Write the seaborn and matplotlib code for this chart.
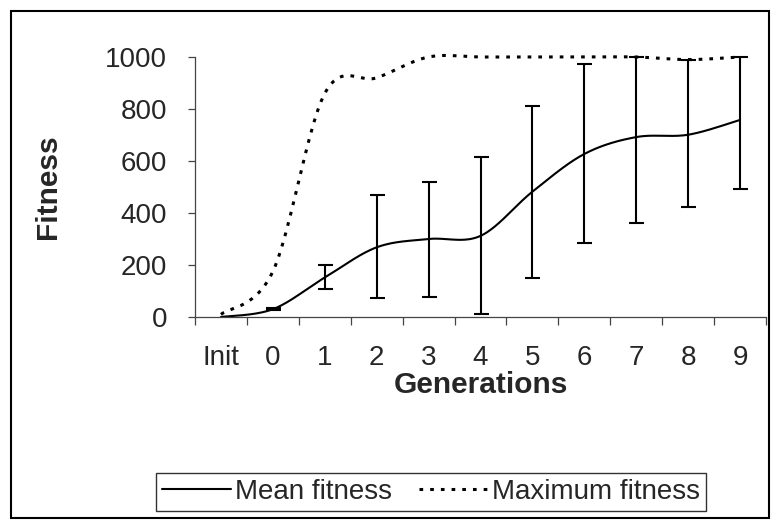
import numpy as np
import pandas as pd
import matplotlib
matplotlib.use("Agg")
import matplotlib.pyplot as plt
from matplotlib.lines import Line2D
from matplotlib.patches import Rectangle
import seaborn as sns

# Fitness per generation
generations = ["Init", "0", "1", "2", "3", "4", "5", "6", "7", "8", "9"]
mean_fitness = [0, 30, 152, 268, 300, 312, 482, 627, 692, 701, 758]
max_fitness = [10, 175, 860, 920, 1000, 1000, 1000, 1000, 1000, 990, 1000]
# Range of the population fitness (lower / upper end of each error bar)
range_low = [np.nan, 27, 106, 72, 78, 13, 150, 286, 363, 422, 491]
range_high = [np.nan, 33, 200, 469, 521, 614, 811, 972, 1000, 987, 1000]
y_ticks = [0, 200, 400, 600, 800, 1000]

sns.set_theme(style="white")
plt.rcParams["font.family"] = ["Liberation Sans", "DejaVu Sans"]

DOTS = (1.2, 2.3)


def smooth_curve(values, steps=40):
    """Smoothed line through the points (cubic Bezier, Catmull-Rom tangents)."""
    y = np.asarray(values, dtype=float)
    x = np.arange(len(y), dtype=float)
    xs, ys = [], []
    n = len(y)
    for i in range(n - 1):
        p0 = (x[i], y[i])
        p3 = (x[i + 1], y[i + 1])
        pm = (x[max(i - 1, 0)], y[max(i - 1, 0)])
        pp = (x[min(i + 2, n - 1)], y[min(i + 2, n - 1)])
        p1 = (p0[0] + (p3[0] - pm[0]) / 6, p0[1] + (p3[1] - pm[1]) / 6)
        p2 = (p3[0] - (pp[0] - p0[0]) / 6, p3[1] - (pp[1] - p0[1]) / 6)
        t = np.linspace(0, 1, steps, endpoint=(i == n - 2))
        b0 = (1 - t) ** 3
        b1 = 3 * (1 - t) ** 2 * t
        b2 = 3 * (1 - t) * t ** 2
        b3 = t ** 3
        xs.append(b0 * p0[0] + b1 * p1[0] + b2 * p2[0] + b3 * p3[0])
        ys.append(b0 * p0[1] + b1 * p1[1] + b2 * p2[1] + b3 * p3[1])
    return np.concatenate(xs), np.concatenate(ys)


mx, my = smooth_curve(mean_fitness)
xx, xy = smooth_curve(max_fitness)
mean_df = pd.DataFrame({"x": mx, "fitness": my})
max_df = pd.DataFrame({"x": xx, "fitness": xy})

W, H = 776, 528
fig = plt.figure(figsize=(W / 100, H / 100), dpi=100)
ax = fig.add_axes([195 / W, 1 - 317 / H, 571 / W, 260 / H])

sns.lineplot(data=mean_df, x="x", y="fitness", ax=ax, color="black",
             linewidth=1.5, sort=False, estimator=None, clip_on=False)
sns.lineplot(data=max_df, x="x", y="fitness", ax=ax, color="black",
             linewidth=2.2, sort=False, estimator=None, clip_on=False)
ax.lines[-1].set_dashes(DOTS)

pos = np.arange(len(generations))
mean_arr = np.array(mean_fitness, dtype=float)
lo = np.array(range_low, dtype=float)
hi = np.array(range_high, dtype=float)
ok = np.isfinite(lo)
ax.errorbar(pos[ok], mean_arr[ok], yerr=[mean_arr[ok] - lo[ok], hi[ok] - mean_arr[ok]],
            fmt="none", ecolor="black", elinewidth=1.5, capsize=5.4, capthick=1.5,
            clip_on=False)

ax.set_xlim(-0.5, len(generations) - 0.5)
ax.set_ylim(0, 1000)
ax.set_yticks(y_ticks)
ax.set_yticklabels([str(v) for v in y_ticks])
ax.set_xticks(np.arange(-0.5, len(generations), 1.0))
ax.set_xticklabels([])
ax.set_xticks(pos, minor=True)
ax.set_xticklabels(generations, minor=True)

for side in ("top", "right"):
    ax.spines[side].set_visible(False)
for side in ("left", "bottom"):
    ax.spines[side].set_color("#444444")
    ax.spines[side].set_linewidth(0.9)

ax.tick_params(axis="y", which="major", direction="out", length=5, width=0.9,
               color="#444444", pad=15, labelsize=20, left=True)
ax.tick_params(axis="x", which="major", direction="out", length=6, width=0.9,
               color="#444444", bottom=True)
ax.tick_params(axis="x", which="minor", length=0, pad=20, labelsize=20, bottom=True)

ax.set_xlabel("Generations", fontsize=21.5, fontweight="bold")
ax.set_ylabel("Fitness", fontsize=21.5, fontweight="bold")
ax.xaxis.set_label_coords(0.5, -0.26)
ax.xaxis.label.set_va("center")
ax.yaxis.set_label_coords(-0.258, 0.5)
ax.yaxis.label.set_va("center")

handles = [
    Line2D([], [], color="black", linewidth=1.5),
    Line2D([], [], color="black", linewidth=2.2, dashes=DOTS),
]
leg = ax.legend(handles, ["Mean fitness", "Maximum fitness"], ncol=2,
                loc="center", bbox_to_anchor=(431 / W, 1 - 492 / H),
                bbox_transform=fig.transFigure, fontsize=20, frameon=True,
                fancybox=False, shadow=False, handlelength=2.5, handletextpad=0.12,
                columnspacing=1.0, borderpad=0.2, borderaxespad=0)
leg.get_frame().set_edgecolor("black")
leg.get_frame().set_linewidth(1.0)

fig.add_artist(Rectangle((11 / W, 1 - 518 / H), (769 - 11) / W, (518 - 11) / H,
                         transform=fig.transFigure, fill=False,
                         edgecolor="black", linewidth=1.5))

fig.savefig("out.png", dpi=100)
